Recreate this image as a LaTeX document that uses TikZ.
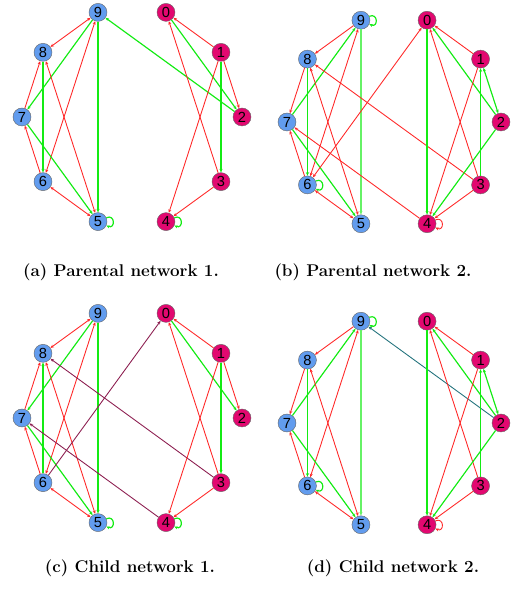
\documentclass[tikz,border=0pt]{standalone}
\usepackage{fontspec}
\newfontfamily\labelfont{Liberation Sans}
\usetikzlibrary{arrows.meta}

\begin{document}
\begin{tikzpicture}[
    x=0.03cm, y=0.03cm,
    >={Stealth[length=3pt,width=2.6pt]},
    gene/.style={circle, draw=black!60, line width=0.35pt, minimum size=0.54cm, inner sep=0pt, font=\labelfont\fontsize{12.5}{12.5}\selectfont},
    bnode/.style={gene, fill=bluenode},
    pnode/.style={gene, fill=pinknode},
    rline/.style={line width=0.75pt, draw=redline},
    gline/.style={line width=1pt, draw=greenline},
    wline/.style={line width=1.4pt, draw=greenline!65},
    mline/.style={line width=0.75pt, draw=mixline},
    tline/.style={line width=0.75pt, draw=tealline},
    caption/.style={font=\fontsize{14.5}{17}\selectfont\bfseries}
]
\definecolor{bluenode}{RGB}{98,156,238}   % Blue
\definecolor{pinknode}{RGB}{226,8,112}    % Pink
\definecolor{redline}{RGB}{255,40,40}     % Red
\definecolor{greenline}{RGB}{20,235,20}   % Green
\definecolor{mixline}{RGB}{140,30,80}     % Dark purple
\definecolor{tealline}{RGB}{35,115,125}   % Teal

\useasboundingbox (0,0) rectangle (514,595);

% (a) Parental network 1
\begin{scope}[shift={(132,478)}]
\node[pnode] (a0) at (72:110) {0};
\node[pnode] (a1) at (36:110) {1};
\node[pnode] (a2) at (0:110) {2};
\node[pnode] (a3) at (-36:110) {3};
\node[pnode] (a4) at (-72:110) {4};
\node[bnode] (a5) at (-108:110) {5};
\node[bnode] (a6) at (-144:110) {6};
\node[bnode] (a7) at (180:110) {7};
\node[bnode] (a8) at (144:110) {8};
\node[bnode] (a9) at (108:110) {9};
\end{scope}
\draw[rline,<->] (a9) -- (a8);
\draw[gline,->] (a9) -- (a7);
\draw[gline,->] (a9) -- (a5);
\draw[rline,<->] (a6) -- (a9);
\draw[rline,->] (a7) -- (a8);
\draw[gline,->] (a8) -- (a6);
\draw[rline,<->] (a8) -- (a5);
\draw[rline,->] (a6) -- (a7);
\draw[gline,->] (a7) -- (a5);
\draw[rline,<->] (a6) -- (a5);
\draw[gline,->] (a5.25) .. controls +(9,4) and +(9,-4) .. (a5.-25);
\draw[gline,->] (a2) -- (a9);
\draw[rline,->] (a1) -- (a0);
\draw[gline,->] (a0) -- (a2);
\draw[rline,->] (a1) -- (a2);
\draw[gline,->] (a1) -- (a3);
\draw[rline,->] (a1) -- (a4);
\draw[rline,->] (a3) -- (a0);
\draw[rline,->] (a3) -- (a4);
\draw[gline,->] (a4.25) .. controls +(9,4) and +(9,-4) .. (a4.-25);
\node[caption] (capa) at (121,323) {(a) Parental network 1.};

% (b) Parental network 2
\begin{scope}[shift={(394,473)}]
\node[pnode] (b0) at (72:107) {0};
\node[pnode] (b1) at (36:107) {1};
\node[pnode] (b2) at (0:107) {2};
\node[pnode] (b3) at (-36:107) {3};
\node[pnode] (b4) at (-72:107) {4};
\node[bnode] (b5) at (-108:107) {5};
\node[bnode] (b6) at (-144:107) {6};
\node[bnode] (b7) at (180:107) {7};
\node[bnode] (b8) at (144:107) {8};
\node[bnode] (b9) at (108:107) {9};
\end{scope}
\draw[gline,->] (b9.25) .. controls +(9,4) and +(9,-4) .. (b9.-25);
\draw[rline,->] (b9) -- (b8);
\draw[gline,->] (b7) -- (b9);
\draw[wline,->] (b9) -- (b5);
\draw[rline,<->] (b6) -- (b9);
\draw[rline,->] (b8) -- (b7);
\draw[gline,->] (b8) -- (b6);
\draw[rline,<->] (b8) -- (b5);
\draw[rline,->] (b3) -- (b8);
\draw[rline,->] (b6) -- (b7);
\draw[gline,->] (b7) -- (b5);
\draw[rline,->] (b4) -- (b7);
\draw[gline,->] (b6.25) .. controls +(9,4) and +(9,-4) .. (b6.-25);
\draw[rline,<->] (b6) -- (b5);
\draw[rline,<->] (b6) -- (b0);
\draw[rline,->] (b1) -- (b0);
\draw[gline,->] (b0) -- (b4);
\draw[gline,->] (b2) -- (b0);
\draw[rline,->] (b3) -- (b0);
\draw[rline,->] (b1) -- (b4);
\draw[gline,<->] (b2) -- (b1);
\draw[gline,->] (b3) -- (b1);
\draw[gline,->] (b2) -- (b4);
\draw[rline,->] (b3) -- (b4);
\draw[rline,->] (b4.25) .. controls +(9,4) and +(9,-4) .. (b4.-25);
\node[caption] (capb) at (373,323) {(b) Parental network 2.};

% (c) Child network 1
\begin{scope}[shift={(132,177)}]
\node[pnode] (c0) at (72:110) {0};
\node[pnode] (c1) at (36:110) {1};
\node[pnode] (c2) at (0:110) {2};
\node[pnode] (c3) at (-36:110) {3};
\node[pnode] (c4) at (-72:110) {4};
\node[bnode] (c5) at (-108:110) {5};
\node[bnode] (c6) at (-144:110) {6};
\node[bnode] (c7) at (180:110) {7};
\node[bnode] (c8) at (144:110) {8};
\node[bnode] (c9) at (108:110) {9};
\end{scope}
\draw[rline,<->] (c9) -- (c8);
\draw[gline,->] (c9) -- (c7);
\draw[gline,->] (c9) -- (c5);
\draw[rline,<->] (c6) -- (c9);
\draw[rline,->] (c7) -- (c8);
\draw[gline,->] (c6) -- (c8);
\draw[rline,<->] (c8) -- (c5);
\draw[mline,->] (c3) -- (c8);
\draw[rline,->] (c6) -- (c7);
\draw[gline,->] (c7) -- (c5);
\draw[mline,->] (c4) -- (c7);
\draw[rline,<->] (c6) -- (c5);
\draw[mline,->] (c6) -- (c0);
\draw[gline,->] (c5.25) .. controls +(9,4) and +(9,-4) .. (c5.-25);
\draw[rline,->] (c1) -- (c0);
\draw[gline,->] (c0) -- (c2);
\draw[rline,->] (c1) -- (c2);
\draw[gline,->] (c1) -- (c3);
\draw[rline,->] (c1) -- (c4);
\draw[rline,->] (c3) -- (c0);
\draw[rline,->] (c3) -- (c4);
\draw[gline,->] (c4.25) .. controls +(9,4) and +(9,-4) .. (c4.-25);
\node[caption] (capc) at (130,27) {(c) Child network 1.};

% (d) Child network 2
\begin{scope}[shift={(394,172)}]
\node[pnode] (d0) at (72:107) {0};
\node[pnode] (d1) at (36:107) {1};
\node[pnode] (d2) at (0:107) {2};
\node[pnode] (d3) at (-36:107) {3};
\node[pnode] (d4) at (-72:107) {4};
\node[bnode] (d5) at (-108:107) {5};
\node[bnode] (d6) at (-144:107) {6};
\node[bnode] (d7) at (180:107) {7};
\node[bnode] (d8) at (144:107) {8};
\node[bnode] (d9) at (108:107) {9};
\end{scope}
\draw[gline,->] (d9.25) .. controls +(9,4) and +(9,-4) .. (d9.-25);
\draw[rline,->] (d9) -- (d8);
\draw[gline,->] (d7) -- (d9);
\draw[wline,->] (d9) -- (d5);
\draw[rline,<->] (d6) -- (d9);
\draw[rline,->] (d8) -- (d7);
\draw[gline,->] (d8) -- (d6);
\draw[rline,<->] (d8) -- (d5);
\draw[rline,->] (d6) -- (d7);
\draw[gline,->] (d7) -- (d5);
\draw[gline,->] (d6.25) .. controls +(9,4) and +(9,-4) .. (d6.-25);
\draw[rline,<->] (d6) -- (d5);
\draw[tline,->] (d2) -- (d9);
\draw[rline,->] (d1) -- (d0);
\draw[gline,->] (d0) -- (d4);
\draw[gline,->] (d2) -- (d0);
\draw[rline,->] (d3) -- (d0);
\draw[rline,->] (d1) -- (d4);
\draw[gline,<->] (d2) -- (d1);
\draw[gline,->] (d3) -- (d1);
\draw[gline,->] (d2) -- (d4);
\draw[rline,->] (d3) -- (d4);
\draw[rline,->] (d4.25) .. controls +(9,4) and +(9,-4) .. (d4.-25);
\node[caption] (capd) at (393,27) {(d) Child network 2.};

\end{tikzpicture}
\end{document}
